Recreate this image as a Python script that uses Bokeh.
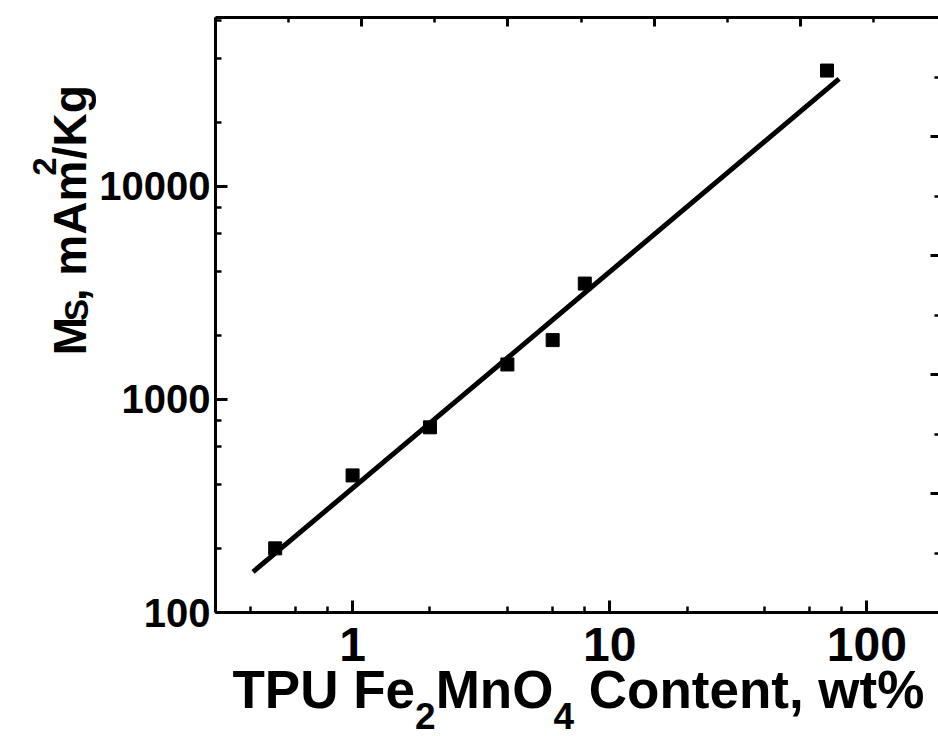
from bokeh.plotting import figure
from bokeh.layouts import column, row
from bokeh.models import (Range1d, LinearAxis, LinearScale, FixedTicker,
                          NumeralTickFormatter, LogTicker, Label)
from bokeh.embed import file_html
from bokeh.resources import INLINE

# Saturation magnetisation vs. filler content (log-log)
content_wt = [0.5, 1, 2, 4, 6, 8, 70]
ms_values = [200, 440, 740, 1460, 1900, 3500, 35000]

# Power-law fit line end points
fit_content = [0.41, 78]
fit_ms = [155, 32000]

FONT = "Liberation Sans"
INK = "#000000"

LEFT_W = 96      # strip holding the rotated y title
BOTTOM_H = 70    # strip holding the x title
W, H = 938, 736
BASE_SHIFT = 0.32  # label anchor sits this many em above the glyph baseline

p = figure(width=W - LEFT_W, height=H - BOTTOM_H,
           x_axis_type="log", y_axis_type="log",
           x_range=Range1d(0.293, 190), y_range=Range1d(100, 62100),
           output_backend="svg", toolbar_location=None,
           min_border_left=119, min_border_right=0, min_border_top=17,
           min_border_bottom=54)
p.outline_line_color = None
p.grid.visible = False
p.background_fill_color = "white"
p.border_fill_color = "white"

# extra linear scales for the tick marks on the top and right frame sides
p.extra_x_ranges = {"top": Range1d(0, 4.945)}
p.extra_x_scales = {"top": LinearScale()}
p.extra_y_ranges = {"right": Range1d(0, 5)}
p.extra_y_scales = {"right": LinearScale()}


def style_axis(ax, major_in, minor_in):
    ax.axis_line_width = 3
    ax.axis_line_color = INK
    ax.major_tick_line_width = 3
    ax.minor_tick_line_width = 2.5
    ax.major_tick_line_color = INK
    ax.minor_tick_line_color = INK
    ax.major_tick_in = major_in
    ax.major_tick_out = 0
    ax.minor_tick_in = minor_in
    ax.minor_tick_out = 0
    ax.major_label_text_font = FONT
    ax.major_label_text_font_style = "bold"
    ax.major_label_text_color = INK


xa = p.xaxis[0]
xa.ticker = LogTicker(desired_num_ticks=3)
xa.formatter = NumeralTickFormatter(format="0")
style_axis(xa, 12, 6)
xa.major_label_text_font_size = "48px"
xa.major_label_standoff = 15

ya = p.yaxis[0]
ya.ticker = LogTicker(desired_num_ticks=3)
ya.formatter = NumeralTickFormatter(format="0")
style_axis(ya, 12, 6)
ya.major_label_text_font_size = "40px"
ya.major_label_standoff = 5

frame_ticks = [0, 1, 2, 3, 4, 5]
frame_minor = [0.5, 1.5, 2.5, 3.5, 4.5]
blank = {t: "" for t in frame_ticks}

top = LinearAxis(x_range_name="top",
                 ticker=FixedTicker(ticks=frame_ticks, minor_ticks=frame_minor))
style_axis(top, 9, 5)
top.major_label_overrides = blank
top.major_label_standoff = 0
p.add_layout(top, "above")

right = LinearAxis(y_range_name="right",
                   ticker=FixedTicker(ticks=frame_ticks, minor_ticks=frame_minor))
style_axis(right, 8, 4)
right.major_label_overrides = blank
right.major_label_standoff = 0
right.axis_line_color = None
p.add_layout(right, "right")

p.line(fit_content, fit_ms, line_width=5, line_color=INK)
p.scatter(content_wt, ms_values, marker="square", size=13,
          fill_color=INK, line_color=INK)

# Arial/Liberation Sans Bold advance widths (1/1000 em)
ADV = {"T": 611, "P": 667, "U": 722, " ": 278, "F": 611, "e": 556, "2": 556,
       "4": 556, "M": 833, "n": 611, "O": 778, "C": 722, "o": 611, "t": 333,
       ",": 278, "w": 778, "%": 889, "S": 667, "m": 889, "A": 722, "/": 278,
       "K": 722, "g": 611}


def adv(s, size):
    return sum(ADV[c] for c in s) / 1000 * size


def strip(width, height):
    f = figure(width=width, height=height, x_range=Range1d(0, width),
               y_range=Range1d(0, height), output_backend="svg",
               toolbar_location=None, min_border=0,
               x_axis_location=None, y_axis_location=None)
    f.grid.visible = False
    f.outline_line_color = None
    f.background_fill_color = "white"
    f.border_fill_color = "white"
    return f


def text_label(x, y, txt, size, angle=0.0):
    return Label(x=x, y=y, text=txt, text_font=FONT, text_font_style="bold",
                 text_font_size=f"{size}px", text_color=INK,
                 text_baseline="alphabetic", text_align="left", angle=angle)


# x-axis title: "TPU Fe2MnO4 Content, wt%" with subscripts
# (size, baseline height above the strip bottom)
xt = strip(W, BOTTOM_H)
x_title = [("TPU Fe", 53, 30), ("2", 37, 9), ("MnO", 53, 30),
           ("4", 37, 9), (" Content, wt%", 53, 30)]
cx = 232
for txt, size, baseline in x_title:
    lead = len(txt) - len(txt.lstrip())
    start = cx + adv(txt[:lead], size)
    xt.add_layout(text_label(start, baseline + BASE_SHIFT * size,
                             txt.lstrip(), size))
    cx += adv(txt, size)

# y-axis title: "M_S, mAm^2/Kg", rotated to read bottom to top
# (size, x position of the glyph baseline)
yt = strip(LEFT_W, H - BOTTOM_H)
y_title = [("M", 46, 84), ("S", 33, 87), (", mAm", 46, 84), ("2", 33, 55),
           ("/Kg", 46, 84)]
cy = (H - BOTTOM_H) - 378
for txt, size, baseline in y_title:
    yt.add_layout(text_label(baseline - BASE_SHIFT * size, cy, txt, size,
                             angle=1.5708))
    cy += adv(txt, size)

layout = column(row(yt, p, spacing=0), xt, spacing=0)

open("out.html", "w").write(file_html(layout, INLINE))
